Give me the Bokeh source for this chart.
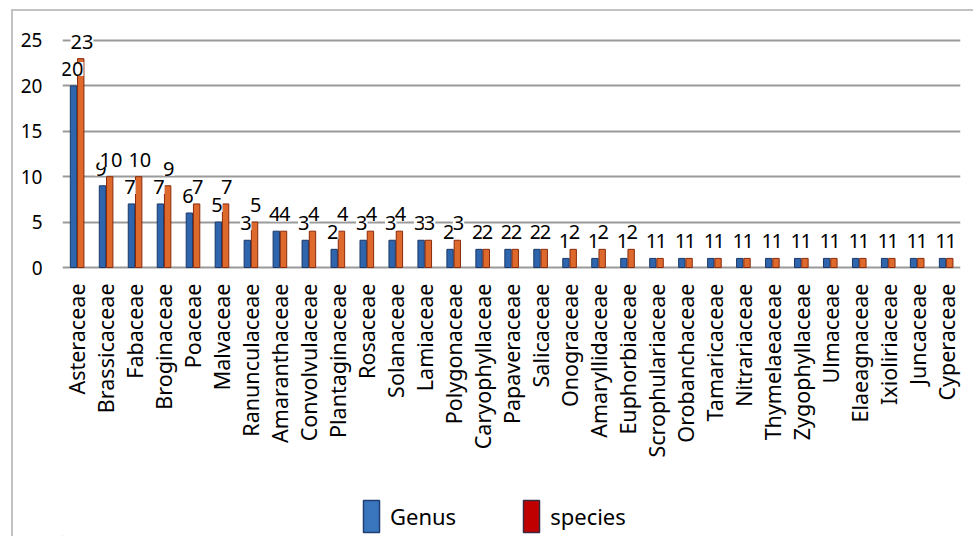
from bokeh.plotting import figure
from bokeh.models import (ColumnDataSource, FactorRange, Legend, LegendItem,
                          FixedTicker)
from bokeh.transform import dodge
from bokeh.layouts import column
from bokeh.core.properties import value
from bokeh.embed import file_html
from bokeh.resources import INLINE
import math

families = ["Asteraceae", "Brassicaceae", "Fabaceae", "Broginaceae", "Poaceae",
            "Malvaceae", "Ranunculaceae", "Amaranthaceae", "Convolvulaceae",
            "Plantaginaceae", "Rosaceae", "Solanaceae", "Lamiaceae", "Polygonaceae",
            "Caryophyllaceae", "Papaveraceae", "Salicaceae", "Onograceae",
            "Amaryllidaceae", "Euphorbiaceae", "Scrophulariaceae", "Orobanchaceae",
            "Tamaricaceae", "Nitrariaceae", "Thymelaeaceae", "Zygophyllaceae",
            "Ulmaceae", "Elaeagnaceae", "Ixioliriaceae", "Juncaceae", "Cyperaceae"]
genus = [20, 9, 7, 7, 6, 5, 3, 4, 3, 2, 3, 3, 3, 2, 2, 2, 2, 1, 1, 1,
         1, 1, 1, 1, 1, 1, 1, 1, 1, 1, 1]
species = [23, 10, 10, 9, 7, 7, 5, 4, 4, 4, 4, 4, 3, 3, 2, 2, 2, 2, 2, 2,
           1, 1, 1, 1, 1, 1, 1, 1, 1, 1, 1]
y_ticks = [0, 5, 10, 15, 20, 25]
series_names = ["Genus", "species"]

FONT = "Noto Sans"

src = ColumnDataSource(data=dict(fam=families, genus=genus, species=species,
                                 glab=[str(v) for v in genus],
                                 slab=[str(v) for v in species]))

p = figure(x_range=FactorRange(factors=families, range_padding=0),
           y_range=(-0.22, 28.19),
           frame_width=898, frame_height=258,
           min_border_left=49, min_border_right=13, min_border_top=0,
           min_border_bottom=200,
           output_backend="svg", toolbar_location=None)
p.outline_line_color = None
p.background_fill_color = "white"
p.border_fill_color = "white"

# grid
p.xgrid.grid_line_color = None
p.ygrid.grid_line_color = "#9a9a9a"
p.ygrid.grid_line_width = 2
p.yaxis.ticker = FixedTicker(ticks=y_ticks)

# axes
p.yaxis.axis_line_color = None
p.yaxis.major_tick_line_color = None
p.yaxis.minor_tick_line_color = None
p.yaxis.major_label_text_font = FONT
p.yaxis.major_label_text_font_size = "19px"
p.yaxis.major_label_text_color = "black"
p.yaxis.major_label_standoff = 14

p.xaxis.axis_line_color = None
p.xaxis.major_tick_line_color = None
p.xaxis.major_label_text_font = FONT
p.xaxis.major_label_text_font_size = "21.5px"
p.xaxis.major_label_text_color = "black"
p.xaxis.major_label_orientation = math.pi / 2
p.xaxis.major_label_standoff = 8

bw = 0.22
rg = p.vbar(x=dodge("fam", -0.12, range=p.x_range), top="genus", width=bw,
            source=src, fill_color="#2f65ad", line_color="#1b3766", line_width=1)
rs = p.vbar(x=dodge("fam", 0.13, range=p.x_range), top="species", width=bw,
            source=src, fill_color="#dd6a2c", line_color="#8a2a0c", line_width=1)

p.text(x=dodge("fam", -0.17, range=p.x_range), y="genus", text="glab", source=src,
       text_font=value(FONT), text_font_size="20px", text_color="black",
       text_align="center", text_baseline="alphabetic", y_offset=-17,
       background_fill_color="white")
p.text(x=dodge("fam", 0.17, range=p.x_range), y="species", text="slab", source=src,
       text_font=value(FONT), text_font_size="20px", text_color="black",
       text_align="center", text_baseline="alphabetic", y_offset=-17,
       background_fill_color="white")

# legend in a small strip figure below the chart
p2 = figure(width=960, height=67, x_range=(0, 1), y_range=(0, 1),
            min_border=0, output_backend="svg", toolbar_location=None)
p2.axis.visible = False
p2.grid.visible = False
p2.outline_line_color = None
p2.border_fill_color = "white"
dummy = ColumnDataSource(data=dict(x=[-5.0], v=[-5.0]))
lg = p2.vbar(x="x", top="v", width=0.1, source=dummy,
             fill_color="#3a76be", line_color="#1f3f73", line_width=1.5)
ls = p2.vbar(x="x", top="v", width=0.1, source=dummy,
             fill_color="#c00000", line_color="#3a2a40", line_width=1.5)
legend = Legend(items=[LegendItem(label=series_names[0], renderers=[lg]),
                       LegendItem(label=series_names[1], renderers=[ls])],
                orientation="horizontal", location=(299, 0),
                glyph_width=20, glyph_height=40, label_standoff=9,
                spacing=65, border_line_color=None, background_fill_alpha=0,
                label_text_font=FONT, label_text_font_size="22px",
                label_text_color="black", margin=0, padding=0)
p2.add_layout(legend)

layout = column(p, p2, margin=(9, 0, 0, 11), spacing=0,
                styles={"border-left": "2px solid #c2c2c2",
                        "border-top": "2px solid #c2c2c2"})

open("out.html", "w").write(file_html(layout, INLINE))
